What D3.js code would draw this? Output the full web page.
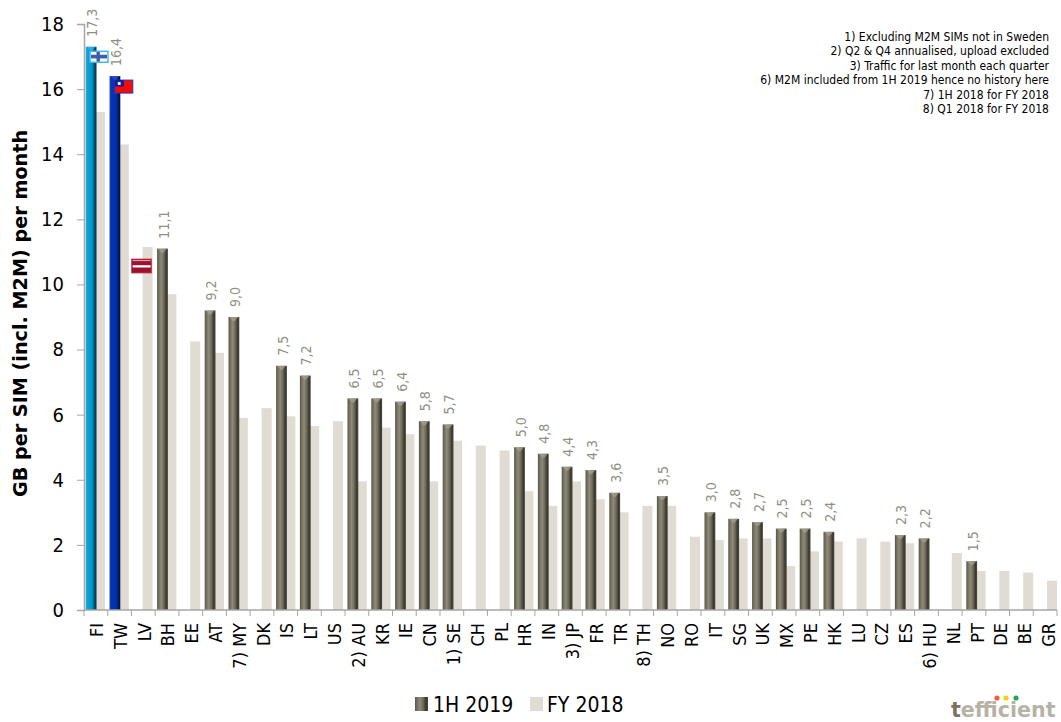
<!DOCTYPE html>
<html>
<head>
<meta charset="utf-8">
<script src="https://cdnjs.cloudflare.com/ajax/libs/d3/7.8.5/d3.min.js"></script>
<style>
html,body{margin:0;padding:0;background:#fff;}
svg{display:block;}
</style>
</head>
<body>
<svg id="chart" width="1061" height="722"></svg>
<script>
// Mobile data usage per SIM, by operator market
const countries = ["FI","TW","LV","BH","EE","AT","7) MY","DK","IS","LT","US","2) AU","KR","IE","CN","1) SE","CH","PL","HR","IN","3) JP","FR","TR","8) TH","NO","RO","IT","SG","UK","MX","PE","HK","LU","CZ","ES","6) HU","NL","PT","DE","BE","GR"];
const h12019 = [17.3,16.4,null,11.1,null,9.2,9.0,null,7.5,7.2,null,6.5,6.5,6.4,5.8,5.7,null,null,5.0,4.8,4.4,4.3,3.6,null,3.5,null,3.0,2.8,2.7,2.5,2.5,2.4,null,null,2.3,2.2,null,1.5,null,null,null];
const fy2018 = [15.3,14.3,11.15,9.7,8.25,7.9,5.9,6.2,5.95,5.65,5.8,3.95,5.6,5.4,3.95,5.2,5.05,4.9,3.65,3.2,3.95,3.4,3.0,3.2,3.2,2.25,2.15,2.2,2.2,1.35,1.8,2.1,2.2,2.1,2.05,null,1.75,1.2,1.2,1.15,0.9];
const yTicks = [0,2,4,6,8,10,12,14,16,18];
const notes = ["1) Excluding M2M SIMs not in Sweden","2) Q2 & Q4 annualised, upload excluded","3) Traffic for last month each quarter","6) M2M included from 1H 2019 hence no history here","7) 1H 2018 for FY 2018","8) Q1 2018 for FY 2018"];
const seriesNames = ["1H 2019","FY 2018"];

const svg = d3.select("#chart");
const FONT = "'DejaVu Sans', Verdana, sans-serif";
const COND = "'DejaVu Sans Condensed', 'DejaVu Sans', sans-serif";
const plotLeft = 84, plotRight = 1059.8, tickRight = 1057, plotTop = 24, plotBottom = 610;

const x = d3.scaleBand().domain(countries).range([plotLeft, plotRight]);
const xTick = d3.scaleLinear().domain([0, countries.length]).range([plotLeft, tickRight]);
const y = d3.scaleLinear().domain([0, 18]).range([plotBottom, plotTop]);

// Metallic horizontal shading for the highlighted and regular columns
const defs = svg.append("defs");
function metal(id, stops) {
  const g = defs.append("linearGradient").attr("id", id);
  stops.forEach(([o, c]) => g.append("stop").attr("offset", o).attr("stop-color", c));
}
metal("barGrey", [[0, "#56523f"], [0.12, "#6f6b5c"], [0.38, "#8f8a79"], [0.62, "#6e6a5b"], [0.85, "#3a372e"], [1, "#4d4a3f"]]);
metal("barFI", [[0, "#3aa9d6"], [0.15, "#06a3dc"], [0.6, "#0795cb"], [0.78, "#045a7a"], [1, "#06303f"]]);
metal("barTW", [[0, "#2a4cc0"], [0.15, "#0433b8"], [0.6, "#0330ad"], [0.78, "#021f70"], [1, "#020f38"]]);

const barFill = c => c === "FI" ? "url(#barFI)" : c === "TW" ? "url(#barTW)" : "url(#barGrey)";
const lightX = c => x(c) + 11, lightW = 10;
const darkX = c => x(c) + 1.7, darkW = 10.8;

// FY 2018 columns sit behind the 1H 2019 ones
svg.append("g").selectAll("rect")
  .data(countries.map((c, i) => ({c, v: fy2018[i]})).filter(d => d.v !== null))
  .join("rect")
  .attr("x", d => lightX(d.c)).attr("width", lightW)
  .attr("y", d => y(d.v)).attr("height", d => y(0) - y(d.v))
  .attr("fill", "#e0dbd3");

const h1 = countries.map((c, i) => ({c, v: h12019[i]})).filter(d => d.v !== null);
svg.append("g").selectAll("rect")
  .data(h1)
  .join("rect")
  .attr("x", d => darkX(d.c)).attr("width", darkW)
  .attr("y", d => y(d.v)).attr("height", d => y(0) - y(d.v))
  .attr("fill", d => barFill(d.c));

// Bevelled cap along the top of each 1H 2019 column
const capColor = c => c === "FI" ? "#35b4e6" : c === "TW" ? "#2b50c8" : "#a5a08e";
svg.append("g").selectAll("path")
  .data(h1)
  .join("path")
  .attr("d", d => {
    const p = d3.path();
    const l = darkX(d.c), t = y(d.v);
    p.moveTo(l + 1, t);
    p.lineTo(l + darkW - 1, t);
    p.lineTo(l + darkW / 2 + 1, t + 4);
    p.lineTo(l + darkW / 2 - 1, t + 4);
    p.closePath();
    return p.toString();
  })
  .attr("fill", d => capColor(d.c))
  .attr("opacity", 0.75);

// Value labels above the 1H 2019 columns
svg.append("g").selectAll("text")
  .data(h1)
  .join("text")
  .attr("transform", d => `translate(${darkX(d.c) + darkW / 2 + 6},${y(d.v) - 10}) rotate(-90)`)
  .attr("font-family", COND).attr("font-size", 14).attr("fill", "#8f8f7f")
  .text(d => d3.format(".1f")(d.v).replace(".", ","));

// Axes
const axisLeft = d3.axisLeft(y).tickValues(yTicks).tickSize(7).tickPadding(13).tickFormat(d3.format("d"));
const gy = svg.append("g").attr("transform", `translate(${plotLeft},0)`).call(axisLeft);
gy.selectAll("text").attr("font-family", COND).attr("font-size", 20).attr("fill", "#000").attr("dy", "0.32em");

const gx = svg.append("g").attr("transform", `translate(0,${plotBottom})`);
gx.append("line").attr("class", "base").attr("x1", plotLeft).attr("x2", tickRight).attr("stroke", "#a6a6a6").attr("stroke-width", 1.5);
gx.selectAll("line.sep").data(d3.range(countries.length + 1)).join("line").attr("class", "sep")
  .attr("x1", i => xTick(i)).attr("x2", i => xTick(i))
  .attr("y1", 0).attr("y2", 6).attr("stroke", "#a6a6a6");
gx.selectAll("text.cat").data(countries).join("text").attr("class", "cat")
  .attr("transform", c => `translate(${x(c) + x.bandwidth() / 2 + 7},13) rotate(-90)`)
  .attr("text-anchor", "end")
  .attr("font-family", COND).attr("font-size", 18).attr("fill", "#000")
  .text(c => c);
gy.selectAll(".domain").attr("stroke", "#a6a6a6").attr("stroke-width", 1.5);
gy.selectAll("line").attr("stroke", "#a6a6a6");

// Y axis title
svg.append("text")
  .attr("transform", `translate(27,${(plotTop + plotBottom) / 2 - 3.5}) rotate(-90)`)
  .attr("text-anchor", "middle")
  .attr("font-family", FONT).attr("font-size", 19.2).attr("font-weight", "bold").attr("fill", "#000")
  .text("GB per SIM (incl. M2M) per month");

// Footnotes
svg.append("g").selectAll("text").data(notes).join("text")
  .attr("x", 1049).attr("y", (d, i) => 40.5 + i * 14.5)
  .attr("text-anchor", "end")
  .attr("font-family", COND).attr("font-size", 12).attr("fill", "#000")
  .text(d => d);

// Legend
const lg = svg.append("g");
lg.append("rect").attr("x", 415).attr("y", 697).attr("width", 13).attr("height", 14).attr("fill", "url(#barGrey)");
lg.append("text").attr("x", 433).attr("y", 712).attr("font-family", COND).attr("font-size", 21).text(seriesNames[0]);
lg.append("rect").attr("x", 530).attr("y", 697).attr("width", 13).attr("height", 14).attr("fill", "#e0dbd3");
lg.append("text").attr("x", 547).attr("y", 712).attr("font-family", COND).attr("font-size", 21).text(seriesNames[1]);

// Country flags next to the top markets
function flag(cx, cy, w, h, draw) {
  const g = svg.append("g").attr("transform", `translate(${cx - w / 2},${cy - h / 2})`);
  draw(g, w, h);
}
flag(x("FI") + 15, y(17.3) + 10, 18, 11, (g, w, h) => {
  g.append("rect").attr("width", w).attr("height", h).attr("fill", "#f4f6fa").attr("stroke", "#3cb8ea").attr("stroke-width", 1.4);
  g.append("rect").attr("x", 1).attr("y", 3.5).attr("width", w - 2).attr("height", 3.6).attr("fill", "#3f5da5");
  g.append("rect").attr("x", 6.5).attr("y", 0.7).attr("width", 3.4).attr("height", h - 1.4).attr("fill", "#3f5da5");
});
flag(x("TW") + 16, y(16.4) + 10.5, 18, 13, (g, w, h) => {
  g.append("rect").attr("width", w).attr("height", h).attr("fill", "#f50a0a").attr("stroke", "#2238b0").attr("stroke-width", 1);
  g.append("rect").attr("width", 9).attr("height", 6.5).attr("fill", "#0a1fa0");
  g.append("rect").attr("x", 3).attr("y", 2).attr("width", 2.8).attr("height", 2.8).attr("fill", "#fff");
});
flag(x("LV") + 10, y(11.15) + 19, 20, 14, (g, w, h) => {
  g.append("rect").attr("width", w).attr("height", h).attr("fill", "#9e1030").attr("stroke", "#c04055").attr("stroke-width", 0.8);
  g.append("rect").attr("x", 1).attr("y", 6.2).attr("width", w - 2).attr("height", 2.3).attr("fill", "#fff");
  g.append("rect").attr("x", 1).attr("y", 1.2).attr("width", w - 2).attr("height", 0.9).attr("fill", "#e8c2c8");
});

// Wordmark with traffic-light dots
const wm = svg.append("g");
wm.append("text").attr("x", 951).attr("y", 717).attr("font-family", FONT).attr("font-size", 20.6).attr("font-weight", "bold").attr("fill", "#b7b2a6")
  .call(t => { t.append("tspan").attr("fill", "#7a7263").text("t"); t.append("tspan").text("efficient"); });
[["#f0603a", 997], ["#f5cf14", 1006], ["#1fa85a", 1016]].forEach(([c, cx]) =>
  wm.append("circle").attr("cx", cx).attr("cy", 698).attr("r", 2.6).attr("fill", c));
</script>
</body>
</html>
